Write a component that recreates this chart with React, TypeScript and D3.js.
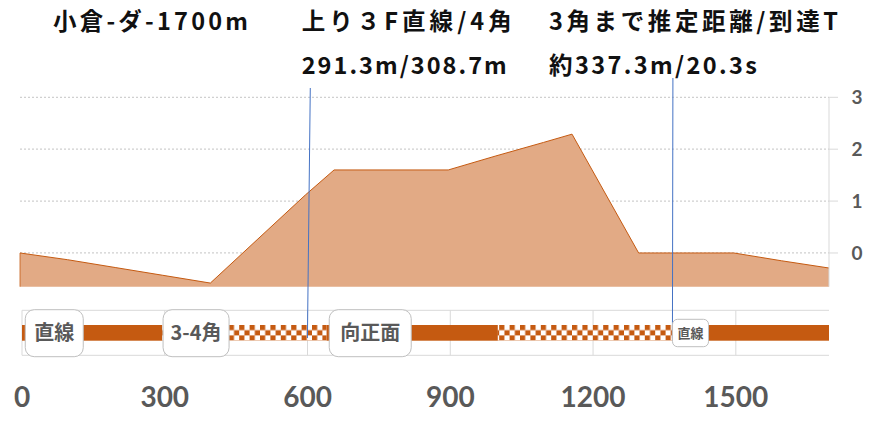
import React from 'react';
import * as d3 from 'd3';

// course profile (distance m, height m)
const distances = [0, 100, 200, 300, 400, 500, 600, 620, 660, 900, 1000, 1100, 1160, 1300, 1500, 1600, 1700];
const heights = [0, -0.13, -0.28, -0.43, -0.58, 0.27, 1.12, 1.28, 1.6, 1.6, 1.87, 2.13, 2.29, 0, 0, -0.15, -0.29];

const xTicks = [0, 300, 600, 900, 1200, 1500];
const yTicks = [0, 1, 2, 3];

// track sections
const sectionStarts = [0, 295, 640, 1000, 1370];
const sectionEnds = [295, 640, 1000, 1370, 1700];
const sectionCurve = [false, true, false, true, false];

// section labels
const labelTexts = ['直線', '3-4角', '向正面', '直線'];
const labelCenters = [72, 370, 736, 1409];
const labelSmall = [false, false, false, true];

// marker lines (top / bottom position in m)
const markerTop = [610, 1372];
const markerBottom = [604, 1371];

const titleLines = [
  ['小倉-ダ-1700m', ''],
  ['上り３F直線/4角', '291.3m/308.7m'],
  ['3角まで推定距離/到達T', '約337.3m/20.3s'],
];

const W = 883;
const H = 423;
const plotLeft = 20;
const plotRight = 829;
const plotTop = 97.3;
const plotBottom = 286.7;

const ORANGE = '#C55A11';
const GRAY = '#595959';
const CJK = '"Noto Sans CJK JP", sans-serif';
const NUM = 'Lato, "Noto Sans", sans-serif';

const x = d3.scaleLinear().domain([0, 1700]).range([plotLeft, plotRight]);
const y = d3.scaleLinear().domain([-0.65, 3]).range([plotBottom, plotTop]);

const App: React.FC = () => {
  const pts = distances.map((d, i) => [d, heights[i]] as [number, number]);
  const area = d3.area<[number, number]>()
    .x(d => x(d[0]))
    .y0(plotBottom)
    .y1(d => y(d[1]))(pts) || '';
  const line = d3.line<[number, number]>()
    .x(d => x(d[0]))
    .y(d => y(d[1]))(pts) || '';

  const trackTop = 310.3;
  const trackBottom = 355.3;
  const barTop = 325;
  const barH = 15.7;

  const titleX = [53, 301.7, 549];
  const titleW = [[195, 0], [210, 205], [289, 208]];

  return (
    <svg width={W} height={H} style={{ position: 'absolute', left: 0, top: 0 }}>
      <defs>
        <pattern id="checker" width={10.4} height={10.4} patternUnits="userSpaceOnUse" x={0} y={barTop}>
          <rect width={10.4} height={10.4} fill="#fff" />
          <rect width={5.2} height={5.2} fill={ORANGE} />
          <rect x={5.2} y={5.2} width={5.2} height={5.2} fill={ORANGE} />
        </pattern>
      </defs>
      <rect width={W} height={H} fill="#fff" />

      {/* titles */}
      {titleLines.map((t, i) => (
        <g key={i} fontFamily={CJK} fontWeight="bold" fontSize={23.5} fill="#111">
          <text x={titleX[i]} y={30} textLength={titleW[i][0]} lengthAdjust="spacing">{t[0]}</text>
          {t[1] && (
            <text x={titleX[i]} y={74} textLength={titleW[i][1]} lengthAdjust="spacing">{t[1]}</text>
          )}
        </g>
      ))}

      {/* grid */}
      {yTicks.map(t => (
        <line key={t} x1={plotLeft} x2={plotRight} y1={y(t)} y2={y(t)}
          stroke="#d0d0d0" strokeWidth={1.2} strokeDasharray="2 2" />
      ))}

      {/* area */}
      <path d={area} fill="#E2AA85" />
      <path d={line} fill="none" stroke={ORANGE} strokeWidth={1} />
      <line x1={plotLeft} x2={plotLeft} y1={y(heights[0])} y2={plotBottom} stroke={ORANGE} strokeWidth={0.8} />

      {/* right axis */}
      <line x1={plotRight} x2={plotRight} y1={plotTop} y2={plotBottom} stroke="#d9d9d9" />
      {yTicks.map(t => (
        <g key={t}>
          <line x1={plotRight} x2={plotRight + 9} y1={y(t)} y2={y(t)} stroke="#d9d9d9" />
          <text x={857} y={y(t)} dy="0.35em" textAnchor="middle" fontFamily={NUM}
            fontWeight="bold" fontSize={19} fill={GRAY}>{t}</text>
        </g>
      ))}

      {/* track frame */}
      <line x1={x(0) + 2} x2={plotRight} y1={trackTop} y2={trackTop} stroke="#d9d9d9" />
      <line x1={x(0) + 2} x2={plotRight} y1={trackBottom} y2={trackBottom} stroke="#d9d9d9" />
      {xTicks.map(t => (
        <line key={t} x1={x(t) + 2} x2={x(t) + 2} y1={trackTop} y2={trackBottom} stroke="#d9d9d9" />
      ))}

      {/* track sections */}
      {sectionStarts.map((s, i) => (
        <rect key={i} x={x(s) + 2} width={x(sectionEnds[i]) - x(s) - (i === sectionStarts.length - 1 ? 2 : 0)}
          y={barTop} height={barH} fill={sectionCurve[i] ? 'url(#checker)' : ORANGE} />
      ))}

      {/* marker lines */}
      {markerTop.map((m, i) => (
        <line key={i} x1={x(m)} y1={i === 0 ? 88 : 78} x2={x(markerBottom[i])} y2={338}
          stroke="#4472C4" strokeWidth={1} />
      ))}

      {/* section labels */}
      {labelTexts.map((t, i) => {
        const small = labelSmall[i];
        const fs = small ? 13 : 20;
        const cx = x(labelCenters[i]);
        const bw = small ? 36 : t === '3-4角' ? 66 : t === '向正面' ? 82 : 58;
        const bh = small ? 27.4 : 47;
        const by = small ? 319.3 : 309.7;
        return (
          <g key={i}>
            <rect x={cx - bw / 2} y={by} width={bw} height={bh} rx={small ? 5 : 9}
              fill="#fff" stroke="#bfbfbf" />
            <text x={cx} y={by + bh / 2} dy="0.36em" textAnchor="middle" fontFamily={CJK}
              fontWeight="bold" fontSize={fs} fill={GRAY}>{t}</text>
          </g>
        );
      })}

      {/* x ticks */}
      {xTicks.map(t => (
        <text key={t} x={x(t) + 2} y={406.7} textAnchor="middle" fontFamily={NUM}
          fontWeight="bold" fontSize={28} fill={GRAY}>{t}</text>
      ))}
    </svg>
  );
};

export default App;
